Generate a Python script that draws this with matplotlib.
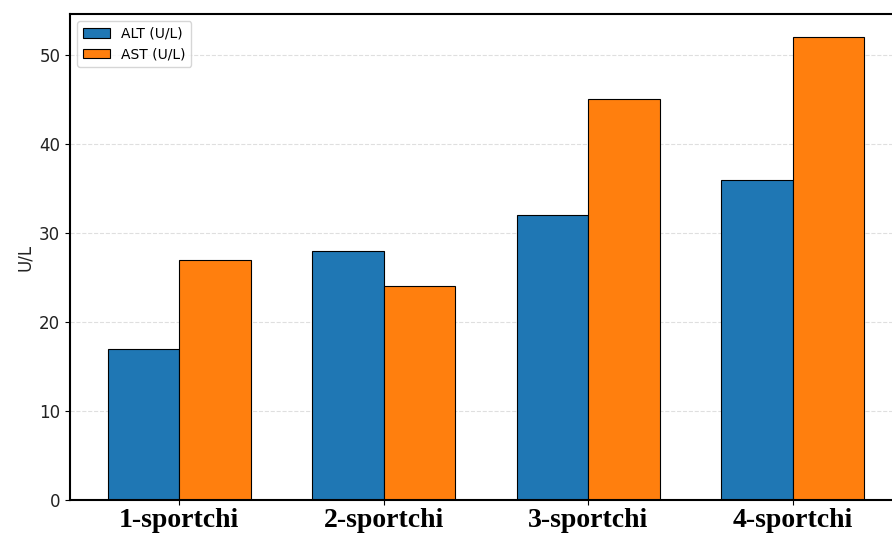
import matplotlib
matplotlib.use('Agg')
import matplotlib.pyplot as plt
import numpy as np

# Data
groups = ['1-sportchi', '2-sportchi', '3-sportchi', '4-sportchi']
alt_values = [17, 28, 32, 36]
ast_values = [27, 24, 45, 52]

x = np.arange(len(groups))
width = 0.35

fig = plt.figure(figsize=(8.92, 5.4), dpi=100)
# axes runs a little past the right edge, as in the cropped reference
ax = fig.add_axes([70 / 892, 40 / 540, 832 / 892, 486 / 540])

ax.bar(x - width / 2, alt_values, width, label='ALT (U/L)',
       color='#1f77b4', edgecolor='black', linewidth=0.8)
ax.bar(x + width / 2, ast_values, width, label='AST (U/L)',
       color='#ff7f0e', edgecolor='black', linewidth=0.8)

ax.set_ylabel('U/L', fontsize=12, color='#222222')
ax.set_xticks(x)
ax.set_xticklabels(groups, fontsize=20, fontweight='bold',
                   family='Liberation Serif')
ax.tick_params(axis='x', pad=2)
ax.tick_params(axis='y', labelsize=12, labelcolor='#222222')
ax.grid(axis='y', linestyle='--', alpha=0.4)
ax.set_axisbelow(True)
ax.legend(loc='upper left', fontsize=10)

for s in ax.spines.values():
    s.set_linewidth(1.5)

fig.savefig('out.png', dpi=100)
